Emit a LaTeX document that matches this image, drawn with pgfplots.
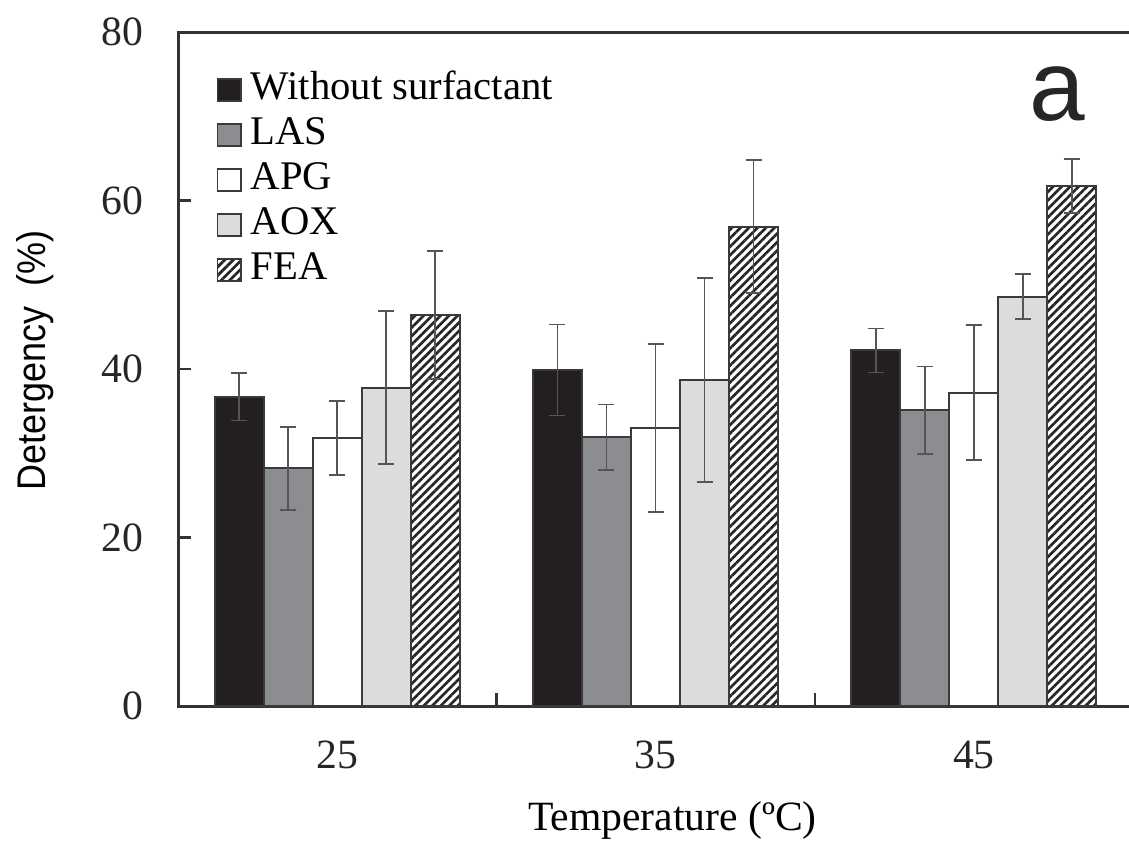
\documentclass[border=0pt]{standalone}
\usepackage{fontspec}
\setmainfont{Liberation Serif}
\newfontfamily\ylabfont[FakeStretch=0.9]{Liberation Sans}
\newfontfamily\panelfont{Liberation Sans}
\usepackage{pgfplots}
\usepackage{pgfplotstable}
\pgfplotsset{compat=1.18}
\usetikzlibrary{patterns.meta}

\definecolor{barblack}{HTML}{231F20}
\definecolor{bargray}{HTML}{8C8D90}
\definecolor{barlight}{HTML}{DCDCDC}
\definecolor{edgecol}{HTML}{3A3A3A}
\definecolor{errcol}{HTML}{555555}

% x: 0 = 25 C, 1 = 35 C, 2 = 45 C
\pgfplotstableread{
x y e
0 36.7 2.8
1 39.9 5.4
2 42.2 2.6
}\tblNone
\pgfplotstableread{
x y e
0 28.2 4.9
1 31.9 3.9
2 35.1 5.2
}\tblLAS
\pgfplotstableread{
x y e
0 31.8 4.4
1 33.0 10.0
2 37.2 8.0
}\tblAPG
\pgfplotstableread{
x y e
0 37.8 9.1
1 38.7 12.1
2 48.6 2.7
}\tblAOX
\pgfplotstableread{
x y e
0 46.4 7.6
1 56.9 7.9
2 61.7 3.2
}\tblFEA

\begin{document}
\begin{tikzpicture}
\useasboundingbox (-53.4pt,-40.5pt) rectangle (285.3pt,211.8pt);
\begin{axis}[
  at={(0pt,0pt)}, anchor=south west,
  scale only axis,
  width=286.5pt, height=202.2pt,
  xmin=-0.5, xmax=2.5,
  ymin=0, ymax=80,
  axis line style={line width=0.9pt, black!80},
  ybar, bar width=0.154,
  xtick={-0.5,0.5,1.5,2.5},
  x tick label as interval,
  xticklabels={25,35,45},
  xtick pos=bottom, ytick pos=left,
  ytick={0,20,40,60,80},
  tick style={draw=black!80, line width=0.7pt},
  ytick style={draw=black!80, line width=0.8pt},
  tick align=inside,
  major tick length=3.8pt,
  /pgf/number format/assume math mode=true,
  tick label style={font=\fontsize{12.5}{14}\selectfont, text=black!85},
  yticklabel style={xshift=-7pt},
  xticklabel style={yshift=-7pt},
  every axis y label/.style={at={(axis description cs:-0.1495,0.512)}, rotate=90, anchor=center},
  ylabel={\ylabfont\fontsize{12}{14}\selectfont Detergency~~(\%)},
  every axis x label/.style={at={(axis description cs:0.5177,0)}, anchor=base, yshift=-37.2pt},
  xlabel={\fontsize{12.5}{14}\selectfont Temperature (ºC)},
  legend cell align=left,
  legend style={draw=none, fill=none, inner sep=0pt, outer sep=0pt,
    at={(axis description cs:0.0405,0.945)}, anchor=north west,
    row sep=1.5pt,
    nodes={inner sep=0pt, text height=9pt, text depth=3pt},
    font=\fontsize{12.2}{14}\selectfont,
    /tikz/every odd column/.append style={column sep=2.7pt}},
  legend image code/.code={\draw[#1, line width=0.5pt] (0pt,-3.5pt) rectangle (7pt,3.1pt);},
  every axis plot/.append style={draw=edgecol, line width=0.6pt,
    error bars/y dir=both, error bars/y explicit,
    error bars/error bar style={errcol, line width=0.5pt},
    error bars/error mark options={rotate=90, mark size=2.4pt, errcol, line width=0.5pt}},
]
\addplot[fill=barblack, bar shift=-0.308] table[x=x, y=y, y error=e] {\tblNone};
\addplot[fill=bargray, bar shift=-0.154] table[x=x, y=y, y error=e] {\tblLAS};
\addplot[fill=white, bar shift=0] table[x=x, y=y, y error=e] {\tblAPG};
\addplot[fill=barlight, bar shift=0.154] table[x=x, y=y, y error=e] {\tblAOX};
\addplot[fill=white, postaction={pattern={Lines[angle=45, distance=1.8pt, line width=0.8pt]}, pattern color=black!85}, bar shift=0.308] table[x=x, y=y, y error=e] {\tblFEA};
\legend{Without surfactant, LAS, APG, AOX, FEA}
\node[anchor=base, inner sep=0pt, font=\panelfont\fontsize{30}{30}\selectfont, text=black!85] at (rel axis cs:0.921,0.869) {a};
\end{axis}
\end{tikzpicture}
\end{document}
